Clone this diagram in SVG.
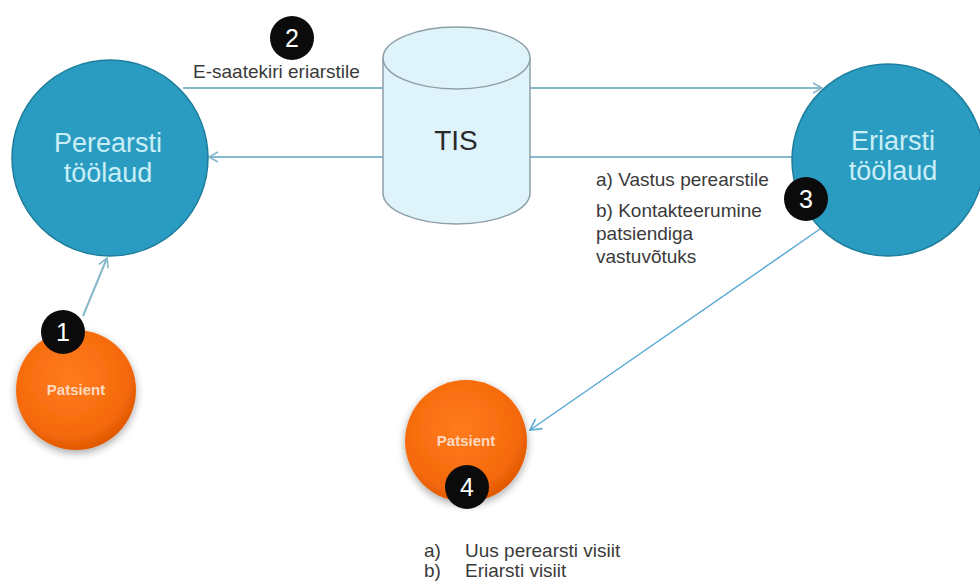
<svg xmlns="http://www.w3.org/2000/svg" width="980" height="588" viewBox="0 0 980 588">
<style>
  .lbl { font-family: "Liberation Sans", Arial, sans-serif; font-size: 19px; fill: #3a3a3a; }
  .big { font-family: "Liberation Sans", Arial, sans-serif; font-size: 27px; fill: #c9eef7; text-anchor: middle; }
  .pat { font-family: "Liberation Sans", Arial, sans-serif; font-size: 15px; font-weight: bold; fill: #ffd9c2; text-anchor: middle; }
  .num { font-family: "Liberation Sans", Arial, sans-serif; font-size: 25px; fill: #ffffff; text-anchor: middle; }
  .blue { fill: #2b9cc1; stroke: #1e7d9c; stroke-width: 1.5; }
  .badge { fill: #0b0b0b; }
  .conn { stroke: #86b8cb; stroke-width: 2; fill: none; }
  .conn2 { stroke: #5aa9d6; stroke-width: 1.5; fill: none; }
</style>
<defs>
  <marker id="arr" markerWidth="14" markerHeight="14" refX="11" refY="7" orient="auto" markerUnits="userSpaceOnUse">
    <path d="M2,2 L11,7 L2,12" fill="none" stroke="#86b8cb" stroke-width="1.6"/>
  </marker>
  <marker id="arr2" markerWidth="16" markerHeight="16" refX="13" refY="8" orient="auto" markerUnits="userSpaceOnUse">
    <path d="M2,2 L13,8 L2,14" fill="none" stroke="#5aa9d6" stroke-width="1.6"/>
  </marker>
  <radialGradient id="og" cx="0.45" cy="0.4" r="0.6">
    <stop offset="0" stop-color="#ff7b1c"/>
    <stop offset="0.8" stop-color="#f56a0c"/>
    <stop offset="1" stop-color="#e05800"/>
  </radialGradient>
  <filter id="glow" x="-30%" y="-30%" width="160%" height="160%">
    <feGaussianBlur in="SourceAlpha" stdDeviation="4"/>
    <feOffset dx="0" dy="3"/>
    <feComponentTransfer><feFuncA type="linear" slope="0.35"/></feComponentTransfer>
    <feMerge><feMergeNode/><feMergeNode in="SourceGraphic"/></feMerge>
  </filter>
</defs>

<g id="connectors">
  <line class="conn" x1="183" y1="88" x2="383" y2="88"/>
  <line class="conn" x1="530" y1="88" x2="822" y2="88" marker-end="url(#arr)"/>
  <line class="conn" x1="383" y1="157" x2="209" y2="157" marker-end="url(#arr)"/>
  <line class="conn" x1="530" y1="157" x2="793" y2="157"/>
  <line class="conn" x1="83" y1="316" x2="107" y2="258" marker-end="url(#arr)"/>
  <line class="conn2" x1="820" y1="229" x2="530" y2="430" marker-end="url(#arr2)"/>
</g>

<g id="perearsti">
  <circle class="blue" cx="110" cy="158" r="98"/>
  <text class="big" x="108" y="152">Perearsti</text>
  <text class="big" x="108" y="182">töölaud</text>
</g>

<g id="eriarsti">
  <circle class="blue" cx="888" cy="160" r="96"/>
  <text class="big" x="893" y="150">Eriarsti</text>
  <text class="big" x="893" y="180">töölaud</text>
</g>

<g id="tis">
  <path d="M383,58 L383,193 A73.5,31 0 0 0 530,193 L530,58" fill="#def3fa" stroke="#8d9ea6" stroke-width="1.5"/>
  <ellipse cx="456.5" cy="58" rx="73.5" ry="31" fill="#def3fa" stroke="#8d9ea6" stroke-width="1.5"/>
  <text x="456" y="150" font-family="Liberation Sans, Arial, sans-serif" font-size="28" fill="#2a2a2a" text-anchor="middle">TIS</text>
</g>

<g id="patsient1">
  <circle cx="76" cy="390" r="60" fill="url(#og)" filter="url(#glow)"/>
  <text class="pat" x="76" y="395">Patsient</text>
</g>

<g id="patsient2">
  <circle cx="466" cy="441" r="61" fill="url(#og)" filter="url(#glow)"/>
  <text class="pat" x="466" y="446">Patsient</text>
</g>

<g id="badge1">
  <circle class="badge" cx="63" cy="332" r="22"/>
  <text class="num" x="63" y="341">1</text>
</g>
<g id="badge2">
  <circle class="badge" cx="292" cy="38" r="22"/>
  <text class="num" x="292" y="47">2</text>
</g>
<g id="badge3">
  <circle class="badge" cx="806" cy="199" r="22"/>
  <text class="num" x="806" y="208">3</text>
</g>
<g id="badge4">
  <circle class="badge" cx="467" cy="487" r="22"/>
  <text class="num" x="467" y="496">4</text>
</g>

<g id="labels">
  <text class="lbl" x="193" y="78">E-saatekiri eriarstile</text>
  <text class="lbl" x="596" y="186">a) Vastus perearstile</text>
  <text class="lbl" x="596" y="217">b) Kontakteerumine</text>
  <text class="lbl" x="596" y="240">patsiendiga</text>
  <text class="lbl" x="596" y="263">vastuvõtuks</text>
  <text class="lbl" x="424" y="557">a)</text>
  <text class="lbl" x="465" y="557">Uus perearsti visiit</text>
  <text class="lbl" x="424" y="577">b)</text>
  <text class="lbl" x="465" y="577">Eriarsti visiit</text>
</g>
</svg>
